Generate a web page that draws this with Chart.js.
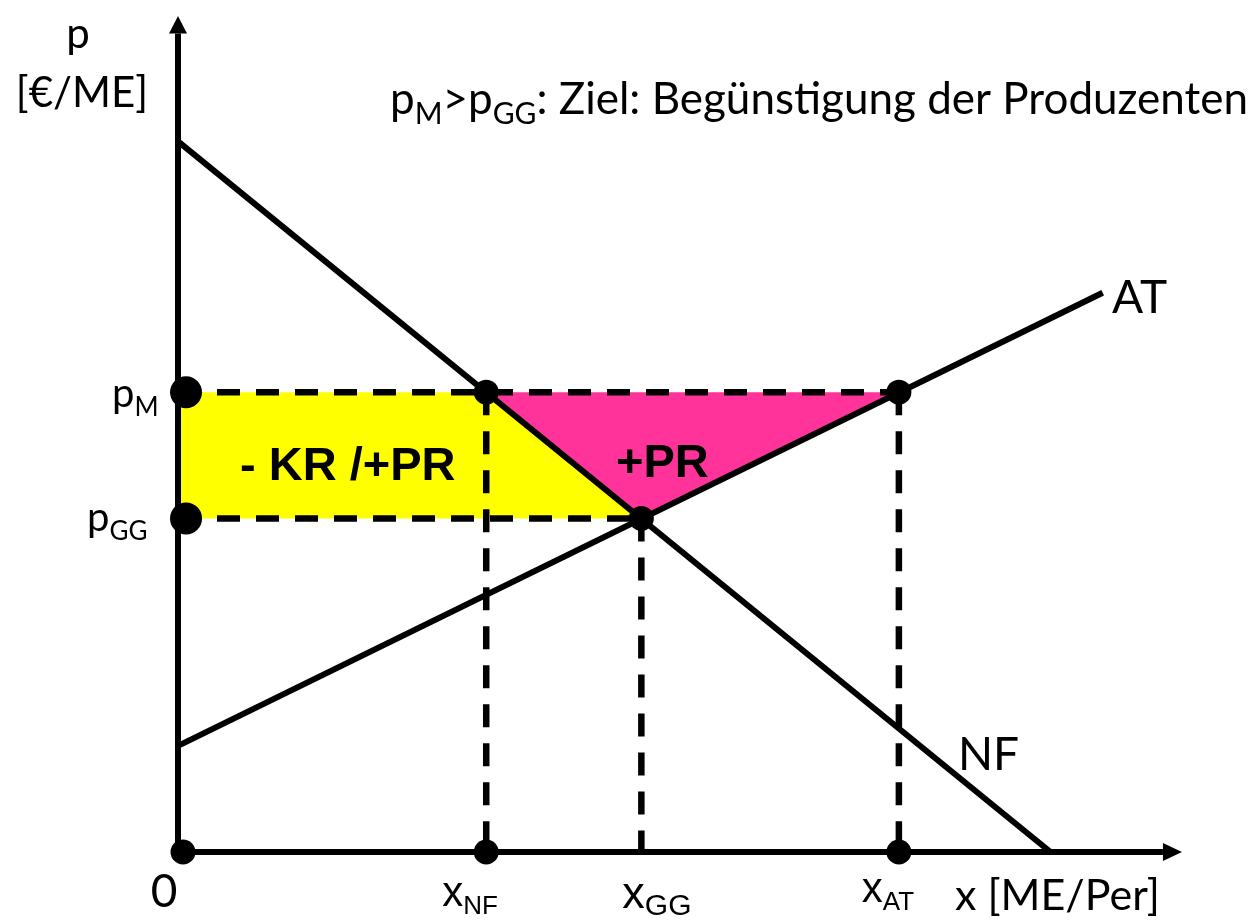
<!DOCTYPE html>
<html><head><meta charset="utf-8">
<script src="https://cdn.jsdelivr.net/npm/chart.js@4"></script>
<style>html,body{margin:0;padding:0;background:#fff}#wrap{width:1249px;height:922px;position:relative}</style>
</head><body><div id="wrap"><canvas id="c"></canvas></div>
<script>
// ---- data (abstract units) ----
const priceLevels = [55, 39.9];              // pM, pGG
const quantityLevels = [30.7, 46.15, 71.8];  // xNF, xGG, xAT
const demandNF = [[0, 85], [86.9, 0]];
const supplyAT = [[0, 12.7], [92.1, 66.9]];
const axisEnds = [98.1, 97.9];               // x-axis, y-axis arrow bases
const axisMax = [100, 100];

// ---- texts ----
const yTitle = ['p', '[€/ME]'];
const xTitle = 'x [ME/Per]';
const originLabel = '0';
const priceLabels = [['p', 'M'], ['p', 'GG']];
const quantityLabels = [['x', 'NF'], ['x', 'GG'], ['x', 'AT']];
const curveLabels = ['NF', 'AT'];
const areaLabels = ['- KR /+PR', '+PR'];
const headline = ['p', 'M', '>', 'p', 'GG', ': Ziel: Begünstigung der Produzenten'];

const [pM, pGG] = priceLevels;
const [xNF, xGG, xAT] = quantityLevels;
const pts = a => a.map(([x, y]) => ({x, y}));

const CAL = 'Lato, "Open Sans", sans-serif';
const ARI = '"Liberation Sans", Arial, sans-serif';
const DASH = [23, 16];

function lineDs(data, opts) {
  return Object.assign({
    data, showLine: true, fill: false, borderColor: '#000', borderWidth: 6,
    pointRadius: 0, borderCapStyle: 'butt', clip: false, tension: 0
  }, opts);
}

const datasets = [
  // dots (top)
  {
    data: [{x: 0.8, y: pM}, {x: 0.8, y: pGG}, {x: 0.5, y: 0}, {x: xNF, y: 0}, {x: xAT, y: 0},
           {x: xNF, y: pM}, {x: xAT, y: pM}, {x: xGG, y: pGG}],
    pointRadius: [16, 16, 12.5, 12.5, 12.5, 12.5, 12.5, 12.5],
    pointBackgroundColor: '#000', pointBorderWidth: 0, showLine: false, clip: false, order: 0
  },
  // curves and axes
  lineDs(pts(demandNF), {order: 1}),
  lineDs(pts(supplyAT), {order: 1}),
  lineDs([{x: 0, y: 0}, {x: axisEnds[0], y: 0}], {order: 1}),
  lineDs([{x: 0, y: 0}, {x: 0, y: axisEnds[1]}], {order: 1}),
  // dashed guides
  lineDs([{x: 0, y: pM}, {x: xAT, y: pM}], {borderDash: DASH, borderWidth: 6.5, order: 2}),
  lineDs([{x: 0, y: pGG}, {x: xGG, y: pGG}], {borderDash: DASH, borderWidth: 6.5, order: 2}),
  lineDs([{x: xNF, y: pM}, {x: xNF, y: 0}], {borderDash: DASH, borderWidth: 6.5, order: 2}),
  lineDs([{x: xGG, y: pGG}, {x: xGG, y: 0}], {borderDash: DASH, borderWidth: 6.5, order: 2}),
  lineDs([{x: xAT, y: pM}, {x: xAT, y: 0}], {borderDash: DASH, borderWidth: 6.5, order: 2}),
  // areas
  lineDs([{x: 0, y: pM}, {x: xNF, y: pM}, {x: xGG, y: pGG}, {x: 0, y: pGG}, {x: 0, y: pM}],
         {fill: 'shape', backgroundColor: '#FFFF00', borderWidth: 0, borderColor: 'rgba(0,0,0,0)', order: 3}),
  lineDs([{x: xNF, y: pM}, {x: xAT, y: pM}, {x: xGG, y: pGG}, {x: xNF, y: pM}],
         {fill: 'shape', backgroundColor: '#FF3399', borderWidth: 0, borderColor: 'rgba(0,0,0,0)', order: 3})
];

function drawRuns(ctx, x, y, runs) {
  ctx.textAlign = 'left';
  ctx.textBaseline = 'alphabetic';
  for (const r of runs) {
    ctx.font = r.f;
    ctx.fillText(r.t, x, y + (r.dy || 0));
    x += ctx.measureText(r.t).width;
  }
  return x;
}

const decor = {
  id: 'decor',
  afterDatasetsDraw(chart) {
    const ctx = chart.ctx, xs = chart.scales.x, ys = chart.scales.y;
    const X = v => xs.getPixelForValue(v), Y = v => ys.getPixelForValue(v);
    ctx.save();
    ctx.fillStyle = '#000';
    // arrow heads
    ctx.beginPath();
    ctx.moveTo(X(axisMax[0]), Y(0));
    ctx.lineTo(X(axisEnds[0]), Y(0) - 9);
    ctx.lineTo(X(axisEnds[0]), Y(0) + 9);
    ctx.closePath(); ctx.fill();
    ctx.beginPath();
    ctx.moveTo(X(0), Y(axisMax[1]));
    ctx.lineTo(X(0) - 9, Y(axisEnds[1]));
    ctx.lineTo(X(0) + 9, Y(axisEnds[1]));
    ctx.closePath(); ctx.fill();

    // y title
    ctx.textAlign = 'center';
    ctx.font = '42px ' + CAL;
    ctx.fillText(yTitle[0], 78, 48);
    ctx.fillText(yTitle[1], 82, 107);

    // headline
    const HF = '44px ' + CAL, HS = '30px ' + CAL;
    drawRuns(ctx, 390, 114, [
      {t: headline[0], f: HF}, {t: headline[1], f: HS, dy: 10},
      {t: headline[2], f: HF}, {t: headline[3], f: HF}, {t: headline[4], f: HS, dy: 10},
      {t: headline[5], f: HF}
    ]);

    // price labels
    drawRuns(ctx, 112, Y(pM) + 15, [
      {t: priceLabels[0][0], f: '40px ' + CAL}, {t: priceLabels[0][1], f: '26px ' + CAL, dy: 9}]);
    drawRuns(ctx, 87, Y(pGG) + 13, [
      {t: priceLabels[1][0], f: '40px ' + CAL}, {t: priceLabels[1][1], f: '26px ' + CAL, dy: 9}]);

    // quantity labels
    ctx.textAlign = 'center';
    ctx.font = '46px ' + CAL;
    ctx.fillText(originLabel, X(0) - 14, Y(0) + 55);
    drawRuns(ctx, X(xNF) - 44, Y(0) + 54, [
      {t: quantityLabels[0][0], f: '42px ' + ARI}, {t: quantityLabels[0][1], f: '26px ' + ARI, dy: 8}]);
    drawRuns(ctx, X(xGG) - 19, Y(0) + 56, [
      {t: quantityLabels[1][0], f: '45px ' + ARI}, {t: quantityLabels[1][1], f: '30px ' + ARI, dy: 7}]);
    drawRuns(ctx, X(xAT) - 37, Y(0) + 50, [
      {t: quantityLabels[2][0], f: '42px ' + ARI}, {t: quantityLabels[2][1], f: '26px ' + ARI, dy: 8}]);
    drawRuns(ctx, 955, Y(0) + 58, [{t: xTitle, f: '43px ' + CAL}]);

    // curve labels
    drawRuns(ctx, 958, 770, [{t: curveLabels[0], f: '46px ' + CAL}]);
    drawRuns(ctx, 1112, 313, [{t: curveLabels[1], f: '46px ' + CAL}]);

    // area labels
    const mid = (Y(pM) + Y(pGG)) / 2;
    drawRuns(ctx, X(0) + 62, mid + 25, [{t: areaLabels[0], f: 'bold 47px ' + ARI}]);
    drawRuns(ctx, 616, mid + 22, [{t: areaLabels[1], f: 'bold 47px ' + ARI}]);
    ctx.restore();
  }
};

new Chart(document.getElementById('c'), {
  type: 'scatter',
  data: {datasets},
  options: {
    responsive: true, maintainAspectRatio: false, animation: false,
    layout: {padding: {left: 178, right: 67, top: 8, bottom: 70}},
    plugins: {legend: {display: false}, tooltip: {enabled: false}, title: {display: false}},
    scales: {
      x: {type: 'linear', min: 0, max: axisMax[0], display: false},
      y: {type: 'linear', min: 0, max: axisMax[1], display: false}
    },
    elements: {point: {hoverRadius: 0}}
  },
  plugins: [decor]
});
</script></body></html>
